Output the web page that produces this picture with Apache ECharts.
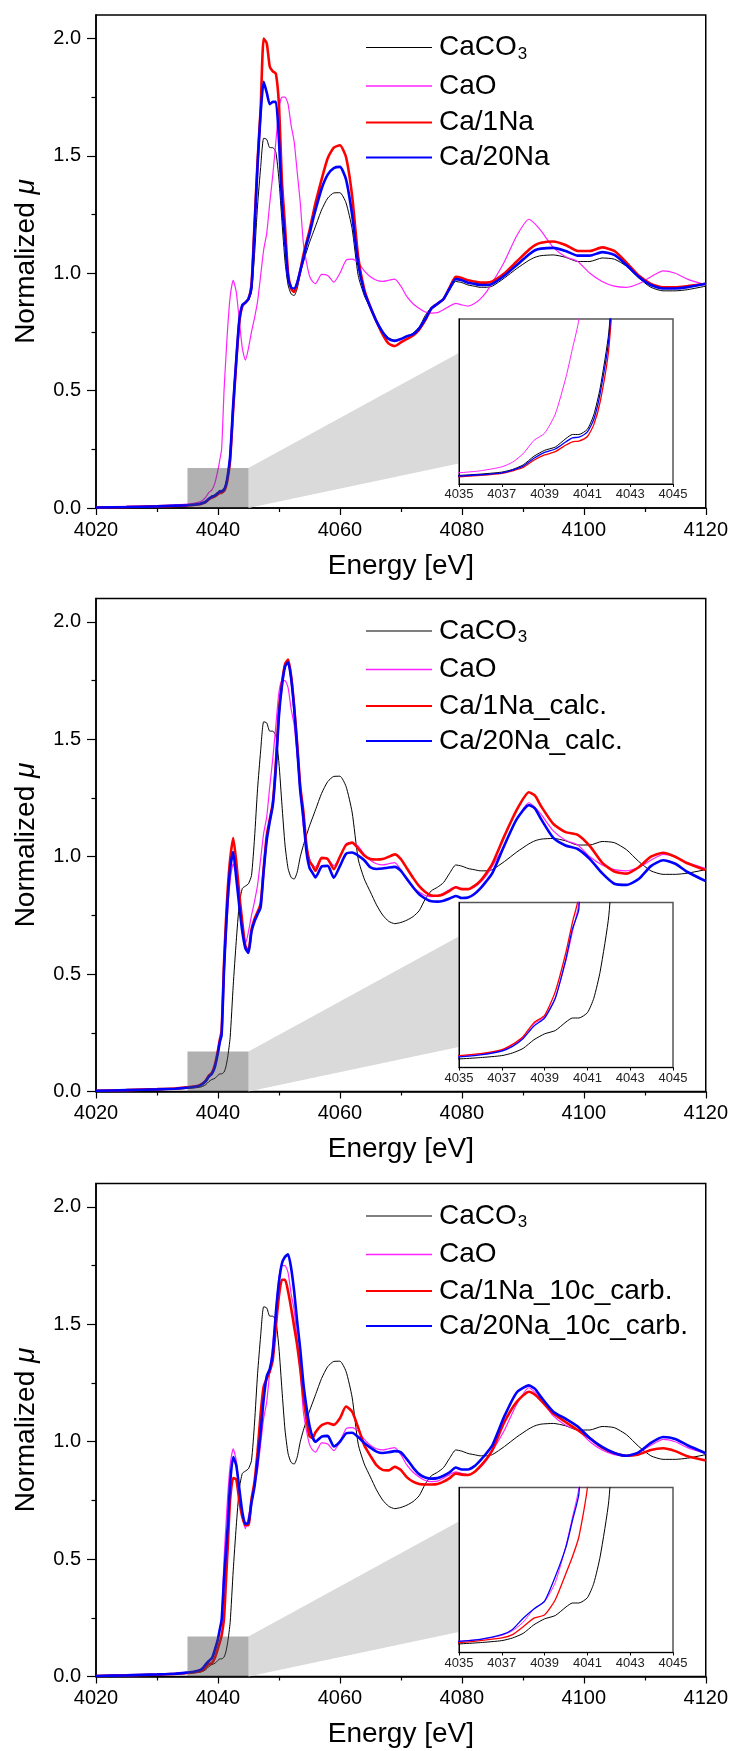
<!DOCTYPE html>
<html><head><meta charset="utf-8">
<script src="https://cdn.jsdelivr.net/npm/echarts@6/dist/echarts.min.js"></script>
<style>html,body{margin:0;padding:0;background:#fff}#c{width:731px;height:1751px}</style>
</head><body><div id="c"></div>
<script>
// ---------------- DATA ----------------
const energy = [4020,4025,4030,4033,4035,4036,4037,4037.5,4038,4038.5,4039,4039.5,4040,4040.3,4040.6,4041,4041.3,4041.6,4042,4042.5,4043,4043.5,4044,4044.5,4045,4045.5,4046,4046.5,4047,4047.5,4048,4048.5,4049,4049.5,4050,4050.5,4051,4051.5,4052,4052.5,4053,4053.5,4054,4054.5,4055,4055.5,4056,4057,4058,4059,4060,4061,4062,4063,4064,4065,4066,4067,4068,4069,4070,4071,4072,4073,4074,4075,4076,4077,4078,4079,4080,4081,4082,4083,4084,4085,4087,4089,4091,4092,4093,4095,4097,4099,4101,4103,4105,4107,4109,4111,4113,4115,4117,4120];

const caco3 = [0.002,0.004,0.007,0.010,0.013,0.015,0.018,0.022,0.029,0.042,
0.051,0.056,0.069,0.075,0.075,0.083,0.105,0.146,0.23,0.45,
0.64,0.80,0.865,0.875,0.885,0.92,1.08,1.29,1.45,1.575,
1.57,1.535,1.535,1.515,1.40,1.22,1.05,0.95,0.912,0.905,
0.935,1.0,1.048,1.09,1.13,1.165,1.20,1.27,1.32,1.342,
1.343,1.30,1.19,0.99,0.905,0.85,0.795,0.752,0.725,0.715,
0.72,0.73,0.745,0.77,0.82,0.855,0.87,0.89,0.93,0.965,
0.96,0.95,0.945,0.94,0.94,0.945,0.98,1.02,1.055,1.068,
1.075,1.078,1.068,1.05,1.05,1.065,1.06,1.03,0.98,0.94,
0.925,0.925,0.93,0.945];

const cao = [0.004,0.007,0.010,0.013,0.017,0.020,0.026,0.033,0.046,0.066,
0.077,0.106,0.162,0.205,0.25,0.50,0.64,0.77,0.90,0.97,
0.92,0.80,0.68,0.63,0.68,0.75,0.81,0.88,0.99,1.10,
1.17,1.30,1.42,1.56,1.70,1.75,1.75,1.72,1.63,1.56,
1.43,1.30,1.13,1.05,0.99,0.965,0.956,0.995,0.99,0.962,
1.0,1.055,1.06,1.045,1.01,0.985,0.97,0.965,0.97,0.975,
0.945,0.90,0.87,0.85,0.835,0.83,0.832,0.845,0.86,0.872,
0.865,0.86,0.87,0.89,0.92,0.96,1.05,1.16,1.23,1.21,
1.18,1.11,1.07,1.05,1.0,0.965,0.945,0.94,0.955,0.985,
1.01,1.0,0.975,0.95];

const ca1Na = [0.002,0.004,0.007,0.009,0.011,0.013,0.016,0.020,0.025,0.036,
0.044,0.049,0.059,0.064,0.065,0.072,0.09,0.125,0.205,0.42,
0.62,0.79,0.86,0.875,0.89,0.95,1.21,1.48,1.70,2.0,
1.98,1.88,1.86,1.85,1.72,1.39,1.20,1.0,0.935,0.92,
0.955,1.01,1.077,1.13,1.18,1.24,1.30,1.40,1.49,1.535,
1.545,1.495,1.33,1.07,0.93,0.855,0.795,0.74,0.70,0.69,
0.705,0.72,0.735,0.76,0.80,0.85,0.87,0.89,0.94,0.985,
0.98,0.97,0.965,0.96,0.96,0.965,1.0,1.05,1.10,1.12,
1.13,1.135,1.12,1.095,1.095,1.11,1.095,1.045,0.99,0.955,
0.94,0.94,0.945,0.955];

const ca20Na = [0.002,0.004,0.007,0.010,0.012,0.014,0.017,0.021,0.027,0.039,
0.048,0.053,0.064,0.070,0.071,0.079,0.098,0.138,0.22,0.44,
0.63,0.80,0.865,0.875,0.89,0.94,1.19,1.46,1.68,1.815,
1.77,1.72,1.73,1.73,1.57,1.30,1.14,0.98,0.94,0.935,
0.96,1.01,1.06,1.12,1.165,1.22,1.27,1.36,1.42,1.448,
1.453,1.40,1.25,1.04,0.92,0.855,0.795,0.75,0.72,0.712,
0.72,0.732,0.74,0.765,0.805,0.85,0.87,0.89,0.935,0.975,
0.97,0.96,0.955,0.95,0.95,0.955,0.99,1.035,1.08,1.098,
1.105,1.108,1.095,1.075,1.075,1.09,1.078,1.035,0.985,0.95,
0.935,0.935,0.94,0.955];

const ca1NaCalc = [0.003,0.006,0.010,0.013,0.018,0.021,0.027,0.035,0.047,0.068,
0.079,0.115,0.175,0.22,0.26,0.55,0.72,0.86,0.99,1.08,
0.98,0.84,0.72,0.62,0.60,0.69,0.735,0.765,0.80,0.95,
1.09,1.16,1.23,1.40,1.62,1.74,1.82,1.84,1.77,1.64,
1.48,1.30,1.195,1.053,0.982,0.962,0.94,0.995,0.99,0.947,
1.0,1.05,1.06,1.035,1.005,0.99,0.988,0.99,1.0,1.01,
0.99,0.95,0.91,0.875,0.85,0.835,0.834,0.84,0.855,0.87,
0.862,0.862,0.875,0.896,0.93,0.97,1.09,1.20,1.275,1.26,
1.215,1.14,1.105,1.093,1.045,0.975,0.937,0.928,0.955,1.0,
1.017,1.0,0.972,0.943];

const ca20NaCalc = [0.003,0.006,0.009,0.012,0.016,0.019,0.025,0.032,0.044,0.063,
0.075,0.105,0.165,0.21,0.24,0.52,0.68,0.82,0.95,1.02,
0.91,0.79,0.68,0.61,0.59,0.68,0.725,0.755,0.785,0.94,
1.07,1.15,1.22,1.38,1.60,1.73,1.81,1.828,1.76,1.63,
1.46,1.28,1.167,1.025,0.954,0.932,0.912,0.958,0.961,0.911,
0.96,1.012,1.018,1.005,0.985,0.955,0.948,0.95,0.954,0.957,
0.94,0.905,0.87,0.84,0.822,0.81,0.809,0.813,0.822,0.833,
0.824,0.826,0.84,0.864,0.895,0.93,1.05,1.16,1.22,1.205,
1.16,1.08,1.048,1.033,0.99,0.93,0.885,0.88,0.905,0.96,
0.985,0.97,0.935,0.896];

const ca1NaCarb = [0.002,0.005,0.008,0.011,0.015,0.018,0.022,0.027,0.039,0.052,
0.057,0.080,0.12,0.145,0.175,0.25,0.40,0.55,0.754,0.845,
0.84,0.75,0.68,0.645,0.645,0.755,0.83,0.96,1.12,1.235,
1.268,1.30,1.35,1.49,1.62,1.69,1.69,1.64,1.57,1.49,
1.41,1.31,1.194,1.10,1.025,1.015,1.04,1.07,1.08,1.072,
1.10,1.15,1.128,1.06,0.985,0.94,0.90,0.88,0.878,0.893,
0.88,0.848,0.83,0.82,0.818,0.818,0.82,0.83,0.845,0.865,
0.86,0.858,0.87,0.895,0.925,0.965,1.085,1.17,1.213,1.20,
1.175,1.12,1.084,1.05,1.015,0.975,0.952,0.94,0.946,0.965,
0.972,0.96,0.938,0.92];

const ca20NaCarb = [0.002,0.005,0.009,0.012,0.017,0.020,0.027,0.035,0.052,0.066,
0.078,0.115,0.16,0.20,0.24,0.42,0.53,0.64,0.825,0.935,
0.90,0.80,0.70,0.65,0.655,0.74,0.81,0.92,1.04,1.18,
1.279,1.31,1.38,1.55,1.68,1.76,1.788,1.798,1.74,1.64,
1.51,1.393,1.251,1.15,1.07,1.02,1.0,1.022,1.025,0.98,
1.0,1.035,1.038,1.02,0.995,0.975,0.958,0.952,0.955,0.96,
0.955,0.925,0.89,0.862,0.848,0.843,0.845,0.855,0.87,0.89,
0.882,0.882,0.895,0.92,0.95,0.985,1.11,1.21,1.24,1.225,
1.19,1.128,1.098,1.065,1.015,0.978,0.952,0.94,0.955,0.995,
1.02,1.012,0.985,0.951];

const panelSeriesNames = [
  ['CaCO3','CaO','Ca/1Na','Ca/20Na'],
  ['CaCO3','CaO','Ca/1Na_calc.','Ca/20Na_calc.'],
  ['CaCO3','CaO','Ca/1Na_10c_carb.','Ca/20Na_10c_carb.']
];
const panelSeriesData = [
  [caco3, cao, ca1Na, ca20Na],
  [caco3, cao, ca1NaCalc, ca20NaCalc],
  [caco3, cao, ca1NaCarb, ca20NaCarb]
];
const yLabelValues = [0, 0.5, 1.0, 1.5, 2.0];
const yMinorValues = [0.25, 0.75, 1.25, 1.75];
const mainXRange = [4020, 4120];
const mainYRange = [0, 2.1];
const insetXRange = [4035, 4045];
const insetYRange = [0, 0.25];
const zoomBox = {x0: 4035, x1: 4045, y0: 0, y1: 0.17};
const zoomLink = {x: 4079.5, yTop: 0.66, yBottom: 0.19};

// ---------------- STYLE / LAYOUT ----------------
const FONT = '"Liberation Sans", Arial, Helvetica, sans-serif';
const colors = ['#000000', '#ff22ff', '#ff0000', '#0000ff'];
const mainWidths = [1, 1.2, 2.6, 2.6];
const insetWidths = [1, 1, 1.3, 1.3];
const legendLineWidths = [1, 1.6, 2.2, 2.2];
const panelTops = [15, 598.5, 1183.5];
const MAIN = {left: 96, width: 610, height: 493};
const INSET = {left: 459, width: 214, height: 165, dy: 304};
const legendRowOffsets = [27.5, 72, 108.5, 143.5];
const plain = v => String(Math.round(v));

const grid = [], xAxis = [], yAxis = [], series = [], legend = [];

panelTops.forEach((top, p) => {
  grid.push({left: MAIN.left, top: top, width: MAIN.width, height: MAIN.height,
    show: true, borderColor: '#000', borderWidth: 1.5, backgroundColor: 'transparent', containLabel: false});
  grid.push({left: INSET.left, top: top + INSET.dy, width: INSET.width, height: INSET.height,
    show: true, borderColor: '#555', borderWidth: 1.5, backgroundColor: '#ffffff', z: 5, containLabel: false});

  const gMain = 2 * p, gIn = 2 * p + 1;
  xAxis.push({type: 'value', gridIndex: gMain, min: mainXRange[0], max: mainXRange[1], interval: 20,
    name: 'Energy [eV]', nameLocation: 'middle', nameGap: 44,
    nameTextStyle: {fontSize: 28, color: '#000', fontFamily: FONT},
    axisLine: {show: true, onZero: false, lineStyle: {color: '#000', width: 1.5}},
    axisTick: {show: true, inside: false, length: 7, lineStyle: {color: '#000', width: 1.2}},
    minorTick: {show: true, splitNumber: 2, length: 4, lineStyle: {color: '#000', width: 1.2}},
    axisLabel: {fontSize: 20, color: '#000', margin: 12, fontFamily: FONT, showMaxLabel: true, showMinLabel: true, formatter: plain},
    splitLine: {show: false}});
  xAxis.push({type: 'value', gridIndex: gIn, min: insetXRange[0], max: insetXRange[1], interval: 2, z: 6,
    axisLine: {show: true, onZero: false, lineStyle: {color: '#000', width: 1}},
    axisTick: {show: true, length: 3, lineStyle: {color: '#000'}},
    axisLabel: {fontSize: 13, color: '#222', margin: 4, fontFamily: FONT, showMaxLabel: true, showMinLabel: true, hideOverlap: false, formatter: plain},
    splitLine: {show: false}});

  yAxis.push({type: 'value', gridIndex: gMain, min: mainYRange[0], max: mainYRange[1], interval: 0.5,
    name: 'Normalized {i|μ}', nameLocation: 'middle', nameGap: 56, nameRotate: 90,
    nameTextStyle: {fontSize: 28, color: '#000', fontFamily: FONT,
      rich: {i: {fontSize: 28, fontStyle: 'italic', color: '#000', fontFamily: FONT}}},
    axisLine: {show: true, onZero: false, lineStyle: {color: '#000', width: 1.5}},
    axisTick: {show: true, inside: false, length: 9, customValues: yLabelValues, lineStyle: {color: '#000', width: 1.2}},
    axisLabel: {fontSize: 20, color: '#000', margin: 15, fontFamily: FONT, customValues: yLabelValues,
      formatter: v => Number(v).toFixed(1)},
    splitLine: {show: false}});
  yAxis.push({type: 'value', gridIndex: gMain, min: mainYRange[0], max: mainYRange[1], position: 'left',
    axisLine: {show: false},
    axisTick: {show: true, inside: false, length: 4.5, customValues: yMinorValues, lineStyle: {color: '#000', width: 1.2}},
    axisLabel: {show: false}, splitLine: {show: false}});
  yAxis.push({type: 'value', gridIndex: gIn, min: insetYRange[0], max: insetYRange[1], z: 6,
    axisLine: {show: true, onZero: false, lineStyle: {color: '#000', width: 1}},
    axisTick: {show: false}, axisLabel: {show: false}, splitLine: {show: false}});

  const xMain = 2 * p, xIn = 2 * p + 1, yMain = 3 * p, yIn = 3 * p + 2;

  // zoom link (trapezoid) below the curves
  series.push({type: 'custom', xAxisIndex: xMain, yAxisIndex: yMain, z: 1, silent: true,
    data: [[zoomBox.x1, zoomBox.y0]],
    renderItem: (params, api) => {
      const a = api.coord([zoomBox.x1, zoomBox.y1]);
      const b = api.coord([zoomLink.x, zoomLink.yTop]);
      const c = api.coord([zoomLink.x, zoomLink.yBottom]);
      const d = api.coord([zoomBox.x1, zoomBox.y0]);
      return {type: 'polygon', shape: {points: [a, b, c, d]}, style: {fill: '#dadada'}};
    }});

  panelSeriesNames[p].forEach((nm, k) => {
    const pts = energy.map((e, i) => [e, panelSeriesData[p][k][i]]);
    series.push({type: 'line', name: nm, xAxisIndex: xMain, yAxisIndex: yMain, data: pts,
      symbol: 'none', showSymbol: false, smooth: 0.2, z: 2 + k * 0.01,
      lineStyle: {color: colors[k], width: mainWidths[k]}, itemStyle: {color: colors[k]}});
  });
  // zoom box over curves
  series.push({type: 'custom', xAxisIndex: xMain, yAxisIndex: yMain, z: 4, silent: true,
    data: [[zoomBox.x0, zoomBox.y0]],
    renderItem: (params, api) => {
      const p0 = api.coord([zoomBox.x0, zoomBox.y1]);
      const p1 = api.coord([zoomBox.x1, zoomBox.y0]);
      return {type: 'rect', shape: {x: p0[0], y: p0[1], width: p1[0] - p0[0], height: p1[1] - p0[1]},
        style: {fill: 'rgba(70,70,70,0.42)'}};
    }});
  // inset series
  panelSeriesNames[p].forEach((nm, k) => {
    const pts = energy.map((e, i) => [e, panelSeriesData[p][k][i]]);
    series.push({type: 'line', name: nm, xAxisIndex: xIn, yAxisIndex: yIn, data: pts, clip: true,
      symbol: 'none', showSymbol: false, smooth: 0.2, z: 7 + k * 0.01,
      lineStyle: {color: colors[k], width: insetWidths[k]}, itemStyle: {color: colors[k]}});
  });

  // legends, one per row
  panelSeriesNames[p].forEach((nm, k) => {
    const isSub = nm === 'CaCO3';
    const h = isSub ? 46 : 30;
    legend.push({show: true, left: 366, top: top + legendRowOffsets[k] - h / 2, padding: 0,
      orient: 'horizontal', data: [nm], selectedMode: false,
      icon: 'rect', itemWidth: 66, itemHeight: legendLineWidths[k], itemGap: 0,
      itemStyle: {color: colors[k], borderWidth: 0},
      formatter: n => n === 'CaCO3' ? '{n|CaCO}{s|3}' : '{n|' + n + '}',
      textStyle: {color: '#000', fontFamily: FONT, fontSize: 28,
        rich: {
          n: {fontSize: 28, lineHeight: 30, color: '#000', fontFamily: FONT, verticalAlign: 'middle', padding: [0, 0, 0, 2]},
          s: {fontSize: 17, lineHeight: 20, color: '#000', fontFamily: FONT, padding: [26, 0, 0, 1], verticalAlign: 'bottom'}
        }}});
  });
});

const chart = echarts.init(document.getElementById('c'), null, {renderer: 'canvas'});
chart.setOption({
  animation: false,
  backgroundColor: '#ffffff',
  textStyle: {fontFamily: FONT},
  grid, xAxis, yAxis, series, legend
});
</script></body></html>
